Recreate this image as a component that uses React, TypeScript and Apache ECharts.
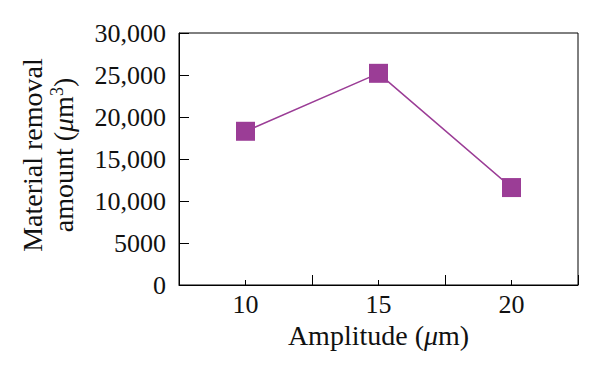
import React, { useEffect, useRef } from "react";
import * as echarts from "echarts";

const categories = ["10", "15", "20"];
const removalValues = [18300, 25200, 11600];
const yTicks = { min: 0, max: 30000, interval: 5000 };

const FONT = '"Liberation Serif", "Times New Roman", serif';
const PURPLE = "#9b3d96";

function fmt(v: number): string {
  if (v >= 10000) {
    return String(v).replace(/\B(?=(\d{3})+(?!\d))/g, ",");
  }
  return String(v);
}

export default function App() {
  const ref = useRef<HTMLDivElement>(null);
  useEffect(() => {
    if (!ref.current) return;
    const chart = echarts.init(ref.current, null, { renderer: "svg" });
    chart.setOption({
      animation: false,
      backgroundColor: "#fff",
      grid: {
        left: 179,
        right: 22,
        top: 33,
        bottom: 96,
        show: true,
        borderColor: "#000",
        borderWidth: 1,
        backgroundColor: "transparent",
      },
      xAxis: [
        {
          type: "category",
          data: categories,
          boundaryGap: true,
          position: "bottom",
          axisLine: { show: true, lineStyle: { color: "#000", width: 1 } },
          axisTick: {
            show: true,
            inside: true,
            length: 10,
            alignWithLabel: false,
            lineStyle: { color: "#000", width: 1 },
          },
          axisLabel: {
            show: true,
            margin: 6,
            color: "#111",
            fontFamily: FONT,
            fontSize: 26,
          },
          splitLine: { show: false },
          name: "Amplitude ({i|μ}m)",
          nameLocation: "middle",
          nameGap: 31,
          nameTextStyle: {
            color: "#111",
            fontFamily: FONT,
            fontSize: 28,
            rich: {
              i: { fontFamily: FONT, fontSize: 28, fontStyle: "italic", color: "#111" },
            },
          },
        },
        {
          type: "category",
          data: categories,
          boundaryGap: true,
          position: "bottom",
          axisLine: { show: false },
          axisTick: {
            show: true,
            inside: true,
            length: 5,
            alignWithLabel: true,
            lineStyle: { color: "#000", width: 1 },
          },
          axisLabel: { show: false },
          splitLine: { show: false },
        },
      ],
      yAxis: {
        type: "value",
        min: yTicks.min,
        max: yTicks.max,
        interval: yTicks.interval,
        axisLine: { show: true, lineStyle: { color: "#000", width: 1 } },
        axisTick: {
          show: true,
          inside: true,
          length: 10,
          lineStyle: { color: "#000", width: 1 },
        },
        axisLabel: {
          margin: 13,
          color: "#111",
          fontFamily: FONT,
          fontSize: 26,
          formatter: (v: number) => fmt(v),
        },
        splitLine: { show: false },
        name: "Material removal\namount ({i|μ}m{sup|3})",
        nameLocation: "middle",
        nameRotate: 90,
        nameGap: 100,
        nameTextStyle: {
          color: "#111",
          fontFamily: FONT,
          fontSize: 28,
          lineHeight: 31,
          padding: [0, 0, 0, 8],
          rich: {
            i: { fontFamily: FONT, fontSize: 28, fontStyle: "italic", color: "#111", lineHeight: 31 },
            sup: { fontFamily: FONT, fontSize: 18, color: "#111", verticalAlign: "top", lineHeight: 31, padding: [0, 0, 10, 0] },
          },
        },
      },
      series: [
        {
          type: "line",
          xAxisIndex: 0,
          data: removalValues,
          symbol: "rect",
          symbolSize: 19,
          lineStyle: { color: PURPLE, width: 1.5 },
          itemStyle: { color: PURPLE },
        },
      ],
    });
    return () => chart.dispose();
  }, []);
  return <div ref={ref} style={{ width: 600, height: 381, position: "absolute", left: 0, top: 0 }} />;
}
